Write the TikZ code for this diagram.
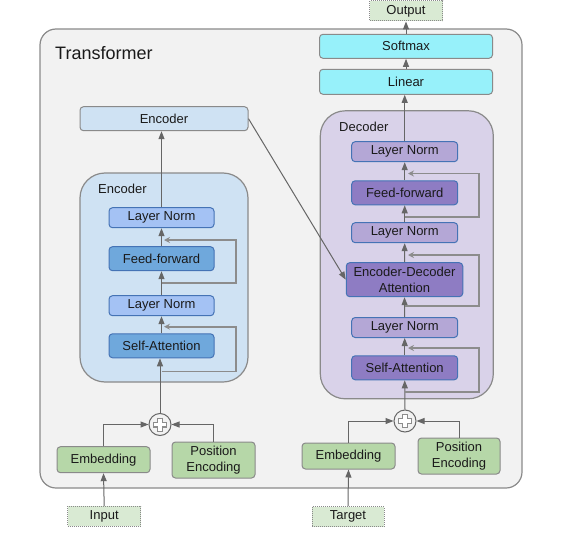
\documentclass[tikz,border=0pt]{standalone}
\usepackage{fontspec}
\setmainfont{Liberation Sans}
\usetikzlibrary{arrows.meta}
\definecolor{bgout}{HTML}{F2F2F2}
\definecolor{bdgray}{HTML}{8A8A8A}
\definecolor{lineg}{HTML}{666666}
\definecolor{resg}{HTML}{8C8C8C}
\definecolor{encc}{HTML}{CFE2F3}
\definecolor{encln}{HTML}{A4C2F4}
\definecolor{encop}{HTML}{6FA8DC}
\definecolor{decc}{HTML}{D9D2E9}
\definecolor{decln}{HTML}{B4A7D6}
\definecolor{decop}{HTML}{8E7CC3}
\definecolor{bluebd}{HTML}{4573B5}
\definecolor{cyanf}{HTML}{97F1FA}
\definecolor{greenf}{HTML}{B6D7A8}
\definecolor{iof}{HTML}{D9EAD3}
\definecolor{txt}{HTML}{1A1A1A}
\tikzset{
  every node/.style={font=\fontsize{13}{15.5}\selectfont, text=txt, inner sep=0pt},
  box/.style={draw=bdgray, line width=1pt, rounded corners=3.5pt, align=center},
  inbox/.style={draw=bluebd, line width=1pt, rounded corners=3.5pt, align=center},
  lnE/.style={inbox, fill=encln, minimum width=105pt, minimum height=20pt},
  opE/.style={inbox, fill=encop, minimum width=105pt, minimum height=24pt},
  lnD/.style={inbox, fill=decln, minimum width=106pt, minimum height=20pt},
  opD/.style={inbox, fill=decop, minimum width=106pt, minimum height=24pt},
  cyanbox/.style={box, fill=cyanf, minimum width=173pt, minimum height=24pt},
  greenbox/.style={box, fill=greenf},
  iobox/.style={draw=bdgray, densely dotted, line width=1pt, fill=iof, minimum width=73pt, minimum height=20pt},
  cont/.style={draw=bdgray, line width=1.2pt, rounded corners=25pt},
  arr/.style={draw=lineg, line width=1pt, -{Triangle[length=8pt,width=6pt]}},
  res/.style={draw=resg, line width=1.8pt, -{Stealth[length=6pt,width=6pt,inset=2pt]}},
  plusc/.style={circle, draw=lineg, line width=1pt, minimum size=22pt},
}
\newcommand{\plusmark}[1]{%
  \draw[line width=6pt, draw=resg] ($(#1)+(-7,0)$) -- ($(#1)+(7,0)$) ($(#1)+(0,-7)$) -- ($(#1)+(0,7)$);
  \draw[line width=3.6pt, draw=white] ($(#1)+(-6,0)$) -- ($(#1)+(6,0)$) ($(#1)+(0,-6)$) -- ($(#1)+(0,6)$);
}
\usetikzlibrary{calc}
\begin{document}
\begin{tikzpicture}[x=1pt,y=-1pt]
\useasboundingbox (0,0) rectangle (562,535);
% outer
\node[draw=bdgray, fill=bgout, line width=1.2pt, rounded corners=16pt, minimum width=482pt, minimum height=459pt] (outer) at (281,258.5) {};
\node[anchor=west, font=\fontsize{18}{20}\selectfont] (title) at (55,53) {Transformer};

% ---------- Encoder side ----------
\node[box, fill=encc, minimum width=168pt, minimum height=24pt] (etop) at (164,118.7) {Encoder};
\node[cont, fill=encc, minimum width=168pt, minimum height=209pt] (econt) at (164,277.5) {};
\node[anchor=west] (elabel) at (98,189) {Encoder};
\node[lnE] (eln2) at (161.5,217.7) {Layer Norm};
\node[opE] (eff) at (161.5,258.7) {Feed-forward};
\node[lnE] (eln1) at (161.5,305.7) {Layer Norm};
\node[opE] (esa) at (161.5,345.8) {Self-Attention};
\node[plusc] (eplus) at (160,424.5) {};
\plusmark{eplus}
\node[greenbox, minimum width=93pt, minimum height=26pt] (eemb) at (103.5,459.7) {Embedding};
\node[greenbox, minimum width=83pt, minimum height=36pt] (epos) at (213.5,460) {Position\\Encoding};
\node[iobox] (input) at (104.2,516.3) {Input};

\draw[arr] (input.north) -- (eemb.south);
\draw[arr] (eemb.north) |- (eplus.west);
\draw[arr] (epos.north) |- (eplus.east);
\draw[arr] (eplus.north) -- (eplus.north |- esa.south);
\draw[arr] (esa.north) -- (eln1.south);
\draw[arr] (eln1.north) -- (eff.south);
\draw[arr] (eff.north) -- (eln2.south);
\draw[arr] (eln2.north) -- (eln2.north |- etop.south);
\coordinate (er1a) at (161.5,371.5);
\coordinate (er1b) at (236,326.7);
\coordinate (er1c) at (164,326.7);
\coordinate (er2a) at (161.5,282.7);
\coordinate (er2b) at (236,240);
\coordinate (er2c) at (164,240);
\draw[res] (er1a) -| (er1b) -- (er1c);
\draw[res] (er2a) -| (er2b) -- (er2c);

% ---------- Decoder side ----------
\node[iobox] (output) at (406,11) {Output};
\node[cyanbox] (softmax) at (406,46.3) {Softmax};
\node[cyanbox, minimum height=25pt] (linear) at (406,81.8) {Linear};
\node[cont, fill=decc, minimum width=173pt, minimum height=288pt] (dcont) at (406.8,254.8) {};
\node[anchor=west] (dlabel) at (339,127.3) {Decoder};
\node[lnD] (dln3) at (404.7,151.7) {Layer Norm};
\node[opD] (dff) at (404.7,192.8) {Feed-forward};
\node[lnD] (dln2) at (404.7,232.7) {Layer Norm};
\node[opD, minimum width=116.5pt, minimum height=34pt] (dencdec) at (404.5,279.7) {Encoder-Decoder\\Attention};
\node[lnD] (dln1) at (404.7,327.5) {Layer Norm};
\node[opD] (dsa) at (404.7,367.8) {Self-Attention};
\node[plusc] (dplus) at (405,421) {};
\plusmark{dplus}
\node[greenbox, minimum width=93pt, minimum height=26pt] (demb) at (348.5,456) {Embedding};
\node[greenbox, minimum width=82pt, minimum height=36pt] (dpos) at (459,456) {Position\\Encoding};
\node[iobox, minimum width=72pt] (target) at (348,516.5) {Target};

\draw[arr] (target.north) -- (demb.south);
\draw[arr] (demb.north) |- (dplus.west);
\draw[arr] (dpos.north) |- (dplus.east);
\draw[arr] (dplus.north) -- (dsa.south);
\draw[arr] (dsa.north) -- (dln1.south);
\draw[arr] (dln1.north) -- (dencdec.south);
\draw[arr] (dencdec.north) -- (dln2.south);
\draw[arr] (dln2.north) -- (dff.south);
\draw[arr] (dff.north) -- (dln3.south);
\draw[arr] (dln3.north) -- (dln3.north |- linear.south);
\draw[arr] (linear.north) -- (softmax.south);
\draw[arr] (softmax.north) -- (output.south);
\coordinate (dr1a) at (404.7,391.7);
\coordinate (dr1b) at (479,348);
\coordinate (dr1c) at (408,348);
\coordinate (dr2a) at (404.7,305.7);
\coordinate (dr2b) at (479,255);
\coordinate (dr2c) at (408,255);
\coordinate (dr3a) at (404.7,216.7);
\coordinate (dr3b) at (479,173.5);
\coordinate (dr3c) at (408,173.5);
\draw[res] (dr1a) -| (dr1b) -- (dr1c);
\draw[res] (dr2a) -| (dr2b) -- (dr2c);
\draw[res] (dr3a) -| (dr3b) -- (dr3c);

% cross connection
\draw[arr] (etop.east) -- (dencdec.west);
\end{tikzpicture}
\end{document}
